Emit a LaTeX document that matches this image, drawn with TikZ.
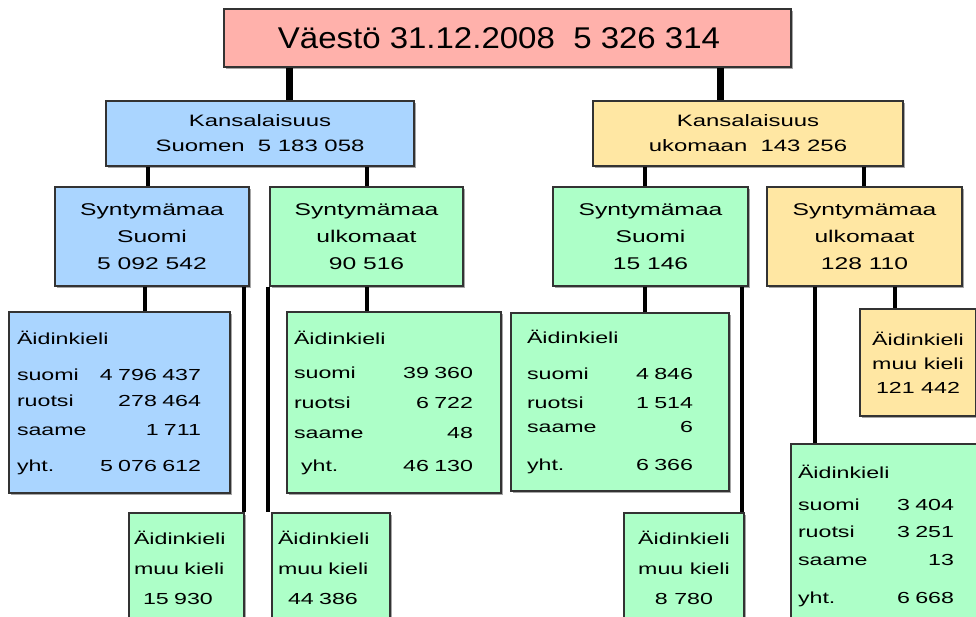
\documentclass[tikz,border=0pt]{standalone}
\usepackage{fontspec}
\setmainfont{Liberation Sans}
\newfontfamily\titlefont[FakeStretch=1.1]{Liberation Sans}
\newfontfamily\boxfont[FakeStretch=1.45]{Liberation Sans}
\usetikzlibrary{shadows}

\definecolor{poppink}{HTML}{FFB1AB}
\definecolor{finblue}{HTML}{AAD5FF}
\definecolor{bornabroad}{HTML}{ADFFC8}
\definecolor{foreignyellow}{HTML}{FFE7A3}

\tikzstyle{statbox} = [rectangle, draw = black!80, line width = 2pt, inner sep = 0pt, anchor = north west, align = center, drop shadow = {shadow xshift = 2pt, shadow yshift = -2pt, fill = black!35, opacity = 1}, font = \boxfont\fontsize{17}{27}\selectfont]
\tikzstyle{langbox} = [statbox, align = left, font = \boxfont\fontsize{16}{26}\selectfont]
\tikzstyle{mainlink} = [line width = 7pt]
\tikzstyle{link} = [line width = 4pt]

\begin{document}
\begin{tikzpicture}[x = 1pt, y = -1pt]
			\useasboundingbox (0,0) rectangle (976,617);
			\clip (0,0) rectangle (976,617);
			% top level
			\node[statbox, fill = poppink, minimum width = 567, minimum height = 58, font = \titlefont\fontsize{30}{36}\selectfont] (top) at (223,8) {Väestö 31.12.2008\ \ 5 326 314\hspace*{17pt}};
			\node[statbox, fill = finblue, minimum width = 308, minimum height = 65, font = \boxfont\fontsize{16.5}{25}\selectfont] (kans1) at (105,100) {Kansalaisuus\\Suomen\ \ 5 183 058};
			\node[statbox, fill = foreignyellow, minimum width = 310, minimum height = 65, font = \boxfont\fontsize{16.5}{25}\selectfont] (kans2) at (592,100) {Kansalaisuus\\ukomaan\ \ 143 256};
			% syntymamaa
			\node[statbox, fill = finblue, minimum width = 194, minimum height = 99] (syn1) at (54,186) {Syntymämaa\\Suomi\\5 092 542};
			\node[statbox, fill = bornabroad, minimum width = 193, minimum height = 99] (syn2) at (269,186) {Syntymämaa\\ulkomaat\\90 516};
			\node[statbox, fill = bornabroad, minimum width = 195, minimum height = 99] (syn3) at (552,186) {Syntymämaa\\Suomi\\15 146};
			\node[statbox, fill = foreignyellow, minimum width = 195, minimum height = 99] (syn4) at (766,186) {Syntymämaa\\ulkomaat\\128 110};
			% aidinkieli
			\node[langbox, fill = finblue, minimum width = 221, minimum height = 181, inner xsep = 8pt, text width = 205pt] (aid1) at (8,311) {\begin{tabular*}{184pt}{@{}l@{\extracolsep{\fill}}r@{}}\multicolumn{2}{@{}l@{}}{Äidinkieli}\\[10pt] suomi & 4 796 437\\ ruotsi & 278 464\\[3pt] saame & 1 711\\[10pt] yht. & 5 076 612\end{tabular*}};
			\node[langbox, fill = bornabroad, minimum width = 214, minimum height = 181, inner xsep = 7pt, text width = 200pt] (aid2) at (286,311) {\begin{tabular*}{179pt}{@{}l@{\extracolsep{\fill}}r@{}}\multicolumn{2}{@{}l@{}}{Äidinkieli}\\[8pt] suomi & 39 360\\[4pt] ruotsi & 6 722\\[4pt] saame & 48\\[7pt] \hspace*{7pt}yht. & 46 130\end{tabular*}};
			\node[langbox, fill = bornabroad, minimum width = 218, minimum height = 178, inner xsep = 16pt, text width = 186pt] (aid3) at (510,312) {\begin{tabular*}{166pt}{@{}l@{\extracolsep{\fill}}r@{}}\multicolumn{2}{@{}l@{}}{Äidinkieli}\\[10pt] suomi & 4 846\\[3pt] ruotsi & 1 514\\[-2pt] saame & 6\\[12pt] yht. & 6 366\end{tabular*}};
			\node[langbox, fill = bornabroad, minimum width = 200, minimum height = 184, inner xsep = 7pt, text width = 186pt] (aid4) at (790,443) {\begin{tabular*}{156pt}{@{}l@{\extracolsep{\fill}}r@{}}\multicolumn{2}{@{}l@{}}{Äidinkieli}\\[6pt] suomi & 3 404\\[1pt] ruotsi & 3 251\\[2pt] saame & 13\\[12pt] yht. & 6 668\end{tabular*}};
			% muu kieli
			\node[langbox, fill = bornabroad, minimum width = 115, minimum height = 110, inner xsep = 5pt, text width = 105pt, font = \boxfont\fontsize{16}{30}\selectfont] (muu1) at (128,512) {Äidinkieli\\muu kieli\\\hspace*{9pt}15 930};
			\node[langbox, fill = bornabroad, minimum width = 118, minimum height = 110, inner xsep = 6pt, text width = 106pt, font = \boxfont\fontsize{16}{30}\selectfont] (muu2) at (271,512) {Äidinkieli\\muu kieli\\\hspace*{10pt}44 386};
			\node[statbox, fill = bornabroad, minimum width = 120, minimum height = 110, font = \boxfont\fontsize{16}{30}\selectfont] (muu3) at (623,512) {Äidinkieli\\muu kieli\\8 780};
			\node[statbox, fill = foreignyellow, minimum width = 116, minimum height = 107, font = \boxfont\fontsize{16}{24}\selectfont] (muu4) at (859,308) {Äidinkieli\\muu kieli\\121 442};
			% where the links come down
			\coordinate (x1) at (289,0);
			\coordinate (x2) at (720,0);
			\coordinate (x3) at (148,0);
			\coordinate (x4) at (367,0);
			\coordinate (x5) at (645,0);
			\coordinate (x6) at (864,0);
			\coordinate (x7) at (145,0);
			\coordinate (x8) at (815,0);
			\coordinate (x9) at (895,0);
			\coordinate (x10) at (244,0);
			\coordinate (x11) at (268,0);
			\coordinate (x12) at (742,0);
			\draw[mainlink] (top.south -| x1) -- (kans1.north -| x1);
			\draw[mainlink] (top.south -| x2) -- (kans2.north -| x2);
			\draw[link] (kans1.south -| x3) -- (syn1.north -| x3);
			\draw[link] (kans1.south -| x4) -- (syn2.north -| x4);
			\draw[link] (kans2.south -| x5) -- (syn3.north -| x5);
			\draw[link] (kans2.south -| x6) -- (syn4.north -| x6);
			\draw[link] (syn1.south -| x7) -- (aid1.north -| x7);
			\draw[link] (syn1.south -| x10) -- (muu1.north -| x10);
			\draw[link] (syn2.south -| x11) -- (muu2.north -| x11);
			\draw[link] (syn2.south -| x4) -- (aid2.north -| x4);
			\draw[link] (syn3.south -| x5) -- (aid3.north -| x5);
			\draw[link] (syn3.south -| x12) -- (muu3.north -| x12);
			\draw[link] (syn4.south -| x8) -- (aid4.north -| x8);
			\draw[link] (syn4.south -| x9) -- (muu4.north -| x9);
		\end{tikzpicture}
\end{document}
